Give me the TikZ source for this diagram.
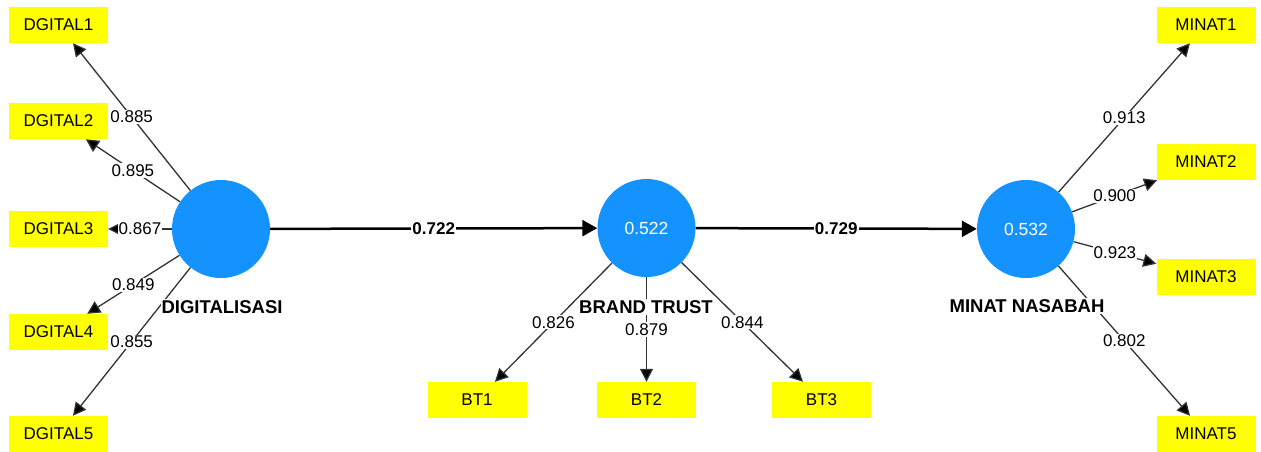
\documentclass[tikz,border=0pt]{standalone}
\usepackage{fontspec}
\setmainfont{Liberation Sans}
\usetikzlibrary{arrows.meta}
\definecolor{lvblue}{RGB}{20,147,255}
\definecolor{indyellow}{RGB}{255,255,0}
\begin{document}
\begin{tikzpicture}[x=1pt,y=-1pt,
  ind/.style={fill=indyellow, minimum width=99pt, minimum height=36pt, inner sep=0pt, font=\fontsize{17}{20}\selectfont},
  lv/.style={circle, fill=lvblue, minimum size=98pt, inner sep=0pt, text=white, font=\fontsize{17.5}{20}\selectfont},
  lvname/.style={fill=white, inner sep=1pt, font=\bfseries\fontsize{18.5}{20}\selectfont},
  loadarrow/.style={draw=black!80, line width=1.3pt, -{Triangle[length=13pt,width=13pt,fill=black]}},
  loadlabel/.style={fill=white, inner sep=1pt, font=\fontsize{17}{20}\selectfont},
  structarrow/.style={draw=black, line width=2.5pt, -{Triangle[length=15pt,width=16pt]}},
  structlabel/.style={fill=white, inner sep=1pt, font=\bfseries\fontsize{17}{20}\selectfont}
]
\useasboundingbox (0,0) rectangle (1261,451);
% latent variables
\node[lv] (dig) at (221,229) {};
\node[lv] (bt) at (646.5,228) {0.522};
\node[lv] (mn) at (1026,229) {0.532};
% indicators
\node[ind] (d1) at (58.5,25) {DGITAL1};
\node[ind] (d2) at (58.5,121) {DGITAL2};
\node[ind] (d3) at (58.5,229) {DGITAL3};
\node[ind] (d4) at (58.5,332) {DGITAL4};
\node[ind] (d5) at (58.5,434) {DGITAL5};
\node[ind] (b1) at (477,400) {BT1};
\node[ind] (b2) at (646.5,400) {BT2};
\node[ind] (b3) at (821.5,400) {BT3};
\node[ind] (m1) at (1206,25) {MINAT1};
\node[ind] (m2) at (1206,162) {MINAT2};
\node[ind] (m3) at (1206,277) {MINAT3};
\node[ind] (m5) at (1206,434) {MINAT5};
% loadings
\draw[loadarrow] (dig) -- node[loadlabel] {0.885} (d1);
\draw[loadarrow] (dig) -- node[loadlabel] {0.895} (d2);
\draw[loadarrow] (dig) -- node[loadlabel] {0.867} (d3);
\draw[loadarrow] (dig) -- node[loadlabel] {0.849} (d4);
\draw[loadarrow] (dig) -- node[loadlabel] {0.855} (d5);
\draw[loadarrow] (bt) -- node[loadlabel] {0.826} (b1);
\draw[loadarrow] (bt) -- node[loadlabel] {0.879} (b2);
\draw[loadarrow] (bt) -- node[loadlabel] {0.844} (b3);
\draw[loadarrow] (mn) -- node[loadlabel] {0.913} (m1);
\draw[loadarrow] (mn) -- node[loadlabel] {0.900} (m2);
\draw[loadarrow] (mn) -- node[loadlabel] {0.923} (m3);
\draw[loadarrow] (mn) -- node[loadlabel] {0.802} (m5);
% structural paths
\draw[structarrow] (dig) -- node[structlabel] {0.722} (bt);
\draw[structarrow] (bt) -- node[structlabel] {0.729} (mn);
% construct names
\node[lvname] (digname) at (222,307) {DIGITALISASI};
\node[lvname] (btname) at (646,307) {BRAND TRUST};
\node[lvname] (mnname) at (1027,306) {MINAT NASABAH};
\end{tikzpicture}
\end{document}
